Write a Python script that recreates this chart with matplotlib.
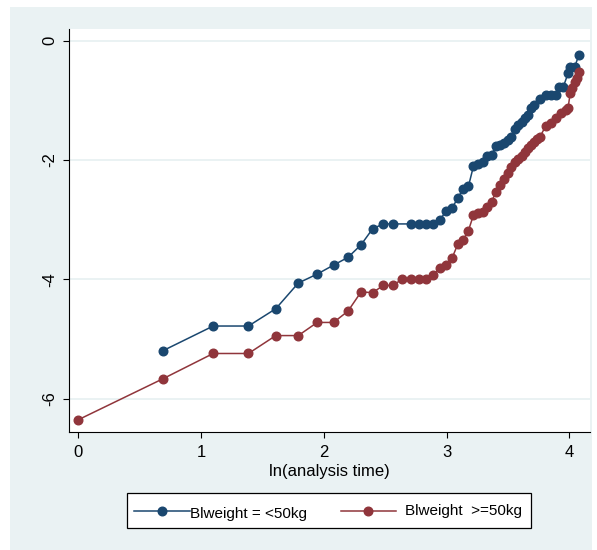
import matplotlib
matplotlib.use("Agg")
import matplotlib.pyplot as plt
from matplotlib.patches import Rectangle
from matplotlib.lines import Line2D
from matplotlib import font_manager

# ---------------- data ----------------
blue_label = "Blweight = <50kg"
red_label = "Blweight  >=50kg"

blue_x = [0.693, 1.099, 1.386, 1.609, 1.792, 1.946, 2.079, 2.197, 2.303, 2.398,
          2.485, 2.565, 2.708, 2.773, 2.833, 2.890, 2.944, 2.996, 3.045, 3.091,
          3.135, 3.178, 3.219, 3.258, 3.296, 3.332, 3.367, 3.401, 3.434, 3.466,
          3.497, 3.526, 3.555, 3.584, 3.611, 3.638, 3.664, 3.689, 3.714, 3.761,
          3.807, 3.850, 3.892, 3.912, 3.951, 3.989, 4.007, 4.043, 4.078]
blue_y = [-5.19, -4.78, -4.78, -4.49, -4.06, -3.91, -3.76, -3.63, -3.42, -3.15,
          -3.07, -3.07, -3.07, -3.07, -3.07, -3.07, -3.00, -2.86, -2.80, -2.64,
          -2.48, -2.44, -2.10, -2.07, -2.04, -1.94, -1.91, -1.76, -1.74, -1.71,
          -1.67, -1.61, -1.48, -1.41, -1.36, -1.30, -1.24, -1.13, -1.07, -0.97,
          -0.91, -0.91, -0.91, -0.77, -0.77, -0.55, -0.44, -0.44, -0.24]

red_x = [0.000, 0.693, 1.099, 1.386, 1.609, 1.792, 1.946, 2.079, 2.197, 2.303,
         2.398, 2.485, 2.565, 2.639, 2.708, 2.773, 2.833, 2.890, 2.944, 2.996,
         3.045, 3.091, 3.135, 3.178, 3.219, 3.258, 3.296, 3.332, 3.367, 3.401,
         3.434, 3.466, 3.497, 3.526, 3.555, 3.584, 3.611, 3.638, 3.664, 3.689,
         3.714, 3.738, 3.761, 3.807, 3.850, 3.892, 3.932, 3.970, 3.989, 4.007,
         4.025, 4.043, 4.060, 4.078]
red_y = [-6.35, -5.66, -5.24, -5.24, -4.94, -4.94, -4.72, -4.72, -4.53, -4.21,
         -4.22, -4.10, -4.10, -3.99, -3.99, -3.99, -3.99, -3.93, -3.80, -3.75,
         -3.64, -3.41, -3.34, -3.18, -2.92, -2.88, -2.87, -2.78, -2.70, -2.53,
         -2.42, -2.31, -2.21, -2.12, -2.04, -1.98, -1.93, -1.87, -1.80, -1.75,
         -1.69, -1.65, -1.61, -1.43, -1.38, -1.30, -1.22, -1.16, -1.13, -0.88,
         -0.80, -0.69, -0.63, -0.52]

x_ticks = [0, 1, 2, 3, 4]
y_ticks = [0, -2, -4, -6]
x_label = "ln(analysis time)"

# ---------------- style ----------------
BLUE = "#1A476F"
RED = "#90353B"
BG = "#EAF2F3"

avail = {f.name for f in font_manager.fontManager.ttflist}
fam = ["Liberation Sans Narrow"] if "Liberation Sans Narrow" in avail else ["Liberation Sans"]
plt.rcParams["font.family"] = fam + ["DejaVu Sans"]

W, H = 597, 550
fig = plt.figure(figsize=(W / 100, H / 100), dpi=100)
fig.patch.set_facecolor("white")
fig.patches.append(Rectangle((10 / W, 0), (592 - 10) / W, (H - 7) / H,
                             transform=fig.transFigure, facecolor=BG,
                             edgecolor="none", zorder=-10))

def fx(px):
    return px / W

def fy(py):
    return 1 - py / H

ax = fig.add_axes([fx(69.3), fy(431.7), fx(590) - fx(69.3), fy(29.3) - fy(431.7)])
ax.set_zorder(1)
ax.set_facecolor("white")

ax.plot(blue_x, blue_y, color=BLUE, lw=1.1, marker="o", ms=6.2, mec=BLUE, mfc=BLUE, zorder=3)
ax.plot(red_x, red_y, color=RED, lw=1.1, marker="o", ms=6.2, mec=RED, mfc=RED, zorder=3)

ax.set_xlim(-0.073, 4.168)
ax.set_ylim(-6.55, 0.19)
ax.set_xticks(x_ticks)
ax.set_yticks(y_ticks)
ax.set_xticklabels([str(t) for t in x_ticks], fontsize=12)
ax.set_yticklabels([str(t) for t in y_ticks], fontsize=12, rotation=90, va="center")
ax.tick_params(axis="both", length=4.5, width=0.8, color="black")
ax.tick_params(axis="x", pad=5)
ax.tick_params(axis="y", pad=4)
ax.grid(axis="y", color=BG, lw=1.4)
ax.set_axisbelow(True)
for s in ["top", "right"]:
    ax.spines[s].set_visible(False)
for s in ["left", "bottom"]:
    ax.spines[s].set_color("black")
    ax.spines[s].set_linewidth(0.8)
ax.set_xlabel(x_label, fontsize=12, labelpad=3)

# ---------------- legend (drawn manually to match layout) ----------------
fig.patches.append(Rectangle((fx(127.3), fy(528.3)), fx(530.7) - fx(127.3), fy(493.3) - fy(528.3),
                             transform=fig.transFigure, facecolor="white",
                             edgecolor="black", lw=0.9, zorder=2))
entries = [(BLUE, blue_label, 134, 190, 190, 514),
           (RED, red_label, 340.7, 396, 405, 511.5)]
for col, lab, x0, x1, tx, ty in entries:
    fig.add_artist(Line2D([fx(x0), fx(x1)], [fy(511), fy(511)], color=col, lw=1.1,
                          transform=fig.transFigure, zorder=3))
    fig.add_artist(Line2D([fx((x0 + x1) / 2)], [fy(511)], color=col, marker="o", ms=6.2,
                          transform=fig.transFigure, zorder=3))
    fig.text(fx(tx), fy(ty), lab, fontsize=11, va="center", ha="left", zorder=4)

fig.savefig("out.png", dpi=100, facecolor=fig.get_facecolor())
